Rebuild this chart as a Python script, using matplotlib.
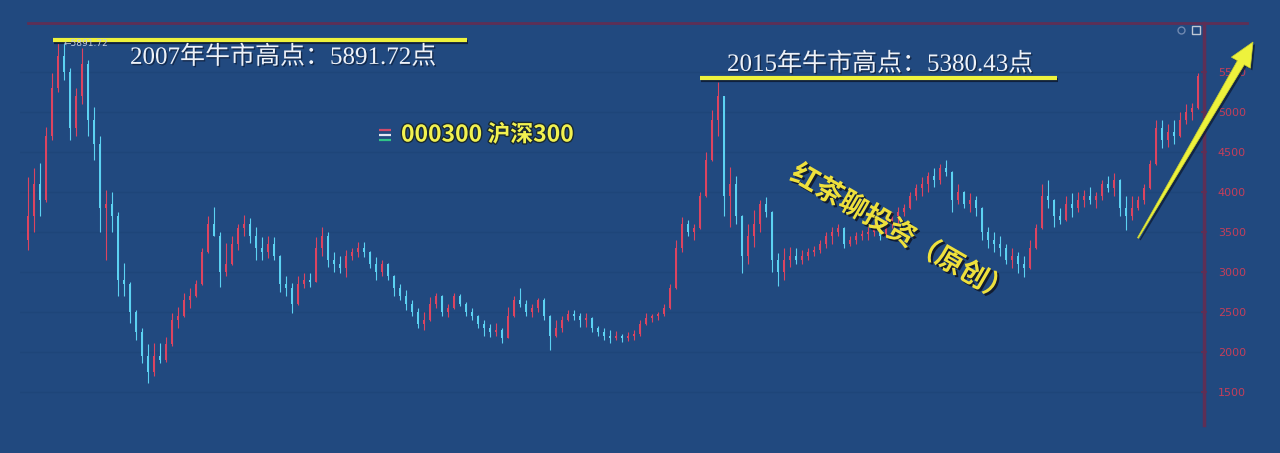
import numpy as np
import matplotlib
matplotlib.use("Agg")
import matplotlib.pyplot as plt
from matplotlib.patches import Polygon
import matplotlib.patheffects as pe

plt.rcParams['font.family'] = ['DejaVu Sans', 'Noto Sans CJK SC']

# weekly-ish candles of CSI 300 (about 3.7 weeks per candle)
opens = [3400, 3700, 4100, 3900, 4700, 5300, 5700, 5500, 4800, 5200,
         5600, 4900, 4600, 3800, 3850, 3700, 2900, 2850, 2500, 2250,
         1950, 1750, 1950, 1900, 2100, 2400, 2450, 2650, 2700, 2850,
         3250, 3600, 3450, 3000, 3100, 3350, 3550, 3600, 3450, 3300,
         3250, 3350, 3200, 2850, 2800, 2600, 2850, 2900, 2880, 3300,
         3450, 3150, 3100, 3050, 3200, 3250, 3300, 3250, 3100, 3000,
         3100, 2950, 2800, 2700, 2600, 2500, 2350, 2400, 2600, 2700,
         2500, 2550, 2700, 2600, 2500, 2450, 2350, 2300, 2250, 2280,
         2180, 2450, 2650, 2600, 2500, 2550, 2650, 2450, 2200, 2300,
         2400, 2480, 2450, 2400, 2430, 2300, 2250, 2200, 2180, 2200,
         2170, 2200, 2230, 2350, 2420, 2450, 2480, 2550, 2800, 3300,
         3600, 3500, 3550, 3950, 4400, 4900, 5200, 3950, 4100, 3700,
         3200, 3450, 3600, 3850, 3750, 3150, 3000, 3150, 3200, 3150,
         3200, 3250, 3280, 3350, 3450, 3500, 3550, 3350, 3400, 3450,
         3480, 3500, 3550, 3450, 3600, 3700, 3750, 3800, 3950, 4050,
         4100, 4200, 4150, 4300, 4250, 3900, 4000, 3850, 3900, 3800,
         3500, 3400, 3350, 3300, 3150, 3200, 3100, 3050, 3300, 3550,
         3950, 3900, 3700, 3650, 3850, 3800, 3900, 3950, 3900, 3950,
         4100, 4050, 4150, 3800, 3700, 3800, 3900, 4050, 4350, 4800,
         4650, 4750, 4700, 4900, 5000, 5050]
highs = [4190, 4300, 4360, 4810, 5490, 5860, 5892, 5550, 5300, 5800,
         5650, 5060, 4700, 4025, 4000, 3750, 3110, 2880, 2520, 2300,
         2100, 2110, 2110, 2190, 2490, 2560, 2740, 2800, 2900, 3300,
         3700, 3810, 3500, 3360, 3450, 3600, 3710, 3680, 3560, 3440,
         3450, 3440, 3210, 2950, 2860, 2950, 2990, 2990, 3440, 3560,
         3500, 3250, 3200, 3275, 3300, 3375, 3375, 3260, 3190, 3150,
         3110, 2960, 2850, 2775, 2650, 2550, 2500, 2690, 2740, 2710,
         2600, 2740, 2720, 2620, 2550, 2460, 2400, 2350, 2360, 2300,
         2560, 2700, 2800, 2650, 2600, 2680, 2670, 2460, 2400, 2450,
         2525, 2530, 2490, 2490, 2440, 2330, 2300, 2270, 2260, 2230,
         2250, 2280, 2400, 2490, 2470, 2500, 2600, 2850, 3400, 3690,
         3650, 3600, 4000, 4500, 5025, 5380, 5200, 4310, 4200, 3710,
         3600, 3775, 3900, 3940, 3760, 3240, 3300, 3310, 3300, 3280,
         3300, 3320, 3400, 3500, 3560, 3600, 3560, 3450, 3500, 3520,
         3560, 3600, 3600, 3650, 3750, 3810, 3850, 4000, 4100, 4190,
         4250, 4300, 4350, 4400, 4260, 4100, 4010, 3990, 3950, 3810,
         3560, 3500, 3450, 3350, 3300, 3250, 3200, 3400, 3600, 4100,
         4150, 3910, 3800, 3950, 3990, 4000, 4020, 4060, 4000, 4150,
         4200, 4240, 4160, 3950, 3950, 3950, 4100, 4400, 4900, 4900,
         4850, 4900, 5000, 5100, 5110, 5490]
lows = [3275, 3500, 3700, 3880, 4650, 5250, 5400, 4650, 4700, 5100,
        4700, 4400, 3500, 3150, 3500, 2700, 2700, 2360, 2150, 1860,
        1607, 1700, 1860, 1880, 2080, 2300, 2440, 2550, 2690, 2840,
        3240, 3450, 2810, 2950, 3090, 3280, 3450, 3360, 3150, 3150,
        3180, 3150, 2750, 2700, 2490, 2590, 2800, 2810, 2870, 3200,
        3060, 3000, 2990, 2940, 3150, 3190, 3190, 3050, 2900, 2950,
        2900, 2700, 2650, 2525, 2450, 2300, 2275, 2390, 2550, 2450,
        2440, 2540, 2580, 2450, 2400, 2300, 2200, 2190, 2200, 2110,
        2170, 2440, 2560, 2450, 2440, 2500, 2400, 2025, 2190, 2250,
        2390, 2400, 2310, 2310, 2250, 2200, 2150, 2110, 2150, 2130,
        2140, 2150, 2200, 2340, 2380, 2400, 2450, 2540, 2790, 3250,
        3450, 3400, 3540, 3940, 4390, 4700, 3700, 3560, 3600, 2990,
        3100, 3310, 3500, 3690, 3000, 2820, 2900, 3060, 3100, 3100,
        3150, 3200, 3240, 3300, 3350, 3450, 3300, 3330, 3350, 3400,
        3400, 3450, 3400, 3440, 3550, 3600, 3700, 3790, 3900, 3950,
        4000, 4060, 4100, 4200, 3750, 3850, 3800, 3750, 3700, 3400,
        3300, 3250, 3200, 3100, 3050, 2990, 2940, 3040, 3290, 3540,
        3800, 3560, 3600, 3640, 3690, 3750, 3810, 3850, 3800, 3900,
        4000, 3950, 3700, 3525, 3650, 3780, 3850, 4040, 4340, 4550,
        4560, 4600, 4690, 4850, 4900, 5040]
closes = [3700, 4100, 3900, 4700, 5300, 5700, 5500, 4800, 5200, 5600,
          4900, 4600, 3800, 3850, 3700, 2900, 2850, 2500, 2250, 1950,
          1750, 1950, 1900, 2100, 2400, 2450, 2650, 2700, 2850, 3250,
          3600, 3450, 3000, 3100, 3350, 3550, 3600, 3450, 3300, 3250,
          3350, 3200, 2850, 2800, 2600, 2850, 2900, 2880, 3300, 3450,
          3150, 3100, 3050, 3200, 3250, 3300, 3250, 3100, 3000, 3100,
          2950, 2800, 2700, 2600, 2500, 2350, 2400, 2600, 2700, 2500,
          2550, 2700, 2600, 2500, 2450, 2350, 2300, 2250, 2280, 2180,
          2450, 2650, 2600, 2500, 2550, 2650, 2450, 2200, 2300, 2400,
          2480, 2450, 2400, 2430, 2300, 2250, 2200, 2180, 2200, 2170,
          2200, 2230, 2350, 2420, 2450, 2480, 2550, 2800, 3300, 3600,
          3500, 3550, 3950, 4400, 4900, 5200, 3950, 4100, 3700, 3200,
          3450, 3600, 3850, 3750, 3150, 3000, 3150, 3200, 3150, 3200,
          3250, 3280, 3350, 3450, 3500, 3550, 3350, 3400, 3450, 3480,
          3500, 3550, 3450, 3600, 3700, 3750, 3800, 3950, 4050, 4100,
          4200, 4150, 4300, 4250, 3900, 4000, 3850, 3900, 3800, 3500,
          3400, 3350, 3300, 3150, 3200, 3100, 3050, 3300, 3550, 3950,
          3900, 3700, 3650, 3850, 3800, 3900, 3950, 3900, 3950, 4100,
          4050, 4150, 3800, 3700, 3800, 3900, 4050, 4350, 4800, 4650,
          4750, 4700, 4900, 5000, 5050, 5450]

yticks = [1500, 2000, 2500, 3000, 3500, 4000, 4500, 5000, 5500]
title_2007 = "2007年牛市高点：5891.72点"
title_2015 = "2015年牛市高点：5380.43点"
peak_label = "←5891.72"
legend_text = "000300 沪深300"
watermark = "红茶聊投资（原创）"

BG = '#21497f'
UP = '#dc4460'
DOWN = '#5cd2f2'
AXIS = '#5e2f55'
YELLOW = '#eef23c'

W, H = 1280, 453
fig = plt.figure(figsize=(12.8, 4.53), dpi=100, facecolor=BG)
ax = fig.add_axes([20 / W, 28 / H, 1184 / W, 402 / H], facecolor=BG)

o = np.array(opens, float)
h = np.array(highs, float)
l = np.array(lows, float)
c = np.array(closes, float)
assert len(o) == len(h) == len(l) == len(c)
idx = np.arange(len(c))
cols = np.where(c >= o, UP, DOWN)

ax.vlines(idx, l, h, colors=cols, lw=0.8, zorder=3)
ax.bar(idx, np.maximum(np.abs(c - o), 10), bottom=np.minimum(o, c),
       width=0.45, color=cols, lw=0, zorder=3)

ax.set_xlim(-8 / 6, 1176 / 6)
ax.set_ylim(1087.5, 6112.5)
ax.set_yticks(yticks)
ax.yaxis.tick_right()
ax.set_xticks([])
ax.grid(axis='y', color='#1e4579', lw=1, zorder=0)
ax.tick_params(axis='y', colors=AXIS, labelcolor='#c43e5a', labelsize=8,
               length=4, width=1.5, direction='inout', pad=8)
for s in ['left', 'bottom', 'top']:
    ax.spines[s].set_visible(False)
ax.spines['right'].set_color(AXIS)
ax.spines['right'].set_linewidth(2.5)

# overlay in pixel coordinates for the annotations
ov = fig.add_axes([0, 0, 1, 1])
ov.set_xlim(0, W)
ov.set_ylim(H, 0)
ov.axis('off')
ov.patch.set_alpha(0)

ov.plot([28, 1247], [23, 23], color=AXIS, lw=2)
ov.plot(1181, 30, 'o', mfc='none', mec='#6f88b0', ms=5, mew=1)
ov.plot(1196, 30, 's', mfc='none', mec='#c0c8d4', ms=6, mew=1)

shadow = [pe.SimpleLineShadow(offset=(0.6, -1.6), shadow_color='#0e1c36', alpha=0.9), pe.Normal()]
ov.plot([53, 467], [39.5, 39.5], color=YELLOW, lw=3, solid_capstyle='butt', path_effects=shadow)
ov.plot([700, 1057], [77.5, 77.5], color=YELLOW, lw=3, solid_capstyle='butt', path_effects=shadow)

txt_fx = [pe.withSimplePatchShadow(offset=(1, -1), shadow_rgbFace='#0e1c36', alpha=0.7)]
serif_cjk = ['Liberation Serif', 'Noto Sans CJK SC']
ov.text(130, 57, title_2007, fontsize=18, color='#eef2f8', ha='left', va='center',
        family=serif_cjk, path_effects=txt_fx)
ov.text(727, 64, title_2015, fontsize=18, color='#eef2f8', ha='left', va='center',
        family=serif_cjk, path_effects=txt_fx)
ov.text(64, 43, peak_label, fontsize=6.5, color='#c4ccda', ha='left', va='center')

# legend marker + code
for yy, cc in [(130, '#d04a6a'), (135, '#e4e8f4'), (140, '#30c488')]:
    ov.plot([379, 391], [yy, yy], color=cc, lw=1.6, solid_capstyle='butt')
ov.text(401, 135, legend_text, fontsize=16.5, color='#f2f250', fontweight='bold',
        ha='left', va='center', family=['Noto Sans CJK SC', 'DejaVu Sans'],
        path_effects=[pe.withStroke(linewidth=2, foreground='#1a2a30')])

# watermark
ov.text(901, 234, watermark, fontsize=20, color='#eee03c', fontweight='bold',
        rotation=-30, rotation_mode='anchor', ha='center', va='center',
        family=['Noto Sans CJK SC', 'DejaVu Sans'],
        path_effects=[pe.withSimplePatchShadow(offset=(1.5, -1.5), shadow_rgbFace='#10182a', alpha=0.9)])

# big arrow
tail = np.array([1138.0, 238.0])
tip = np.array([1253.0, 42.0])
u = (tip - tail) / np.linalg.norm(tip - tail)
n = np.array([-u[1], u[0]])
base = tip - 24 * u
pts = [tail + 0.6 * n, base + 4 * n, base + 11 * n, tip,
       base - 11 * n, base - 4 * n, tail - 0.6 * n]
ov.add_patch(Polygon(pts, closed=True, facecolor=YELLOW, edgecolor='#c8d030', lw=0.5,
                     path_effects=[pe.withSimplePatchShadow(offset=(1.5, -1.5), shadow_rgbFace='#0e1c36', alpha=0.8)]))

fig.savefig('out.png', dpi=100, facecolor=BG)
